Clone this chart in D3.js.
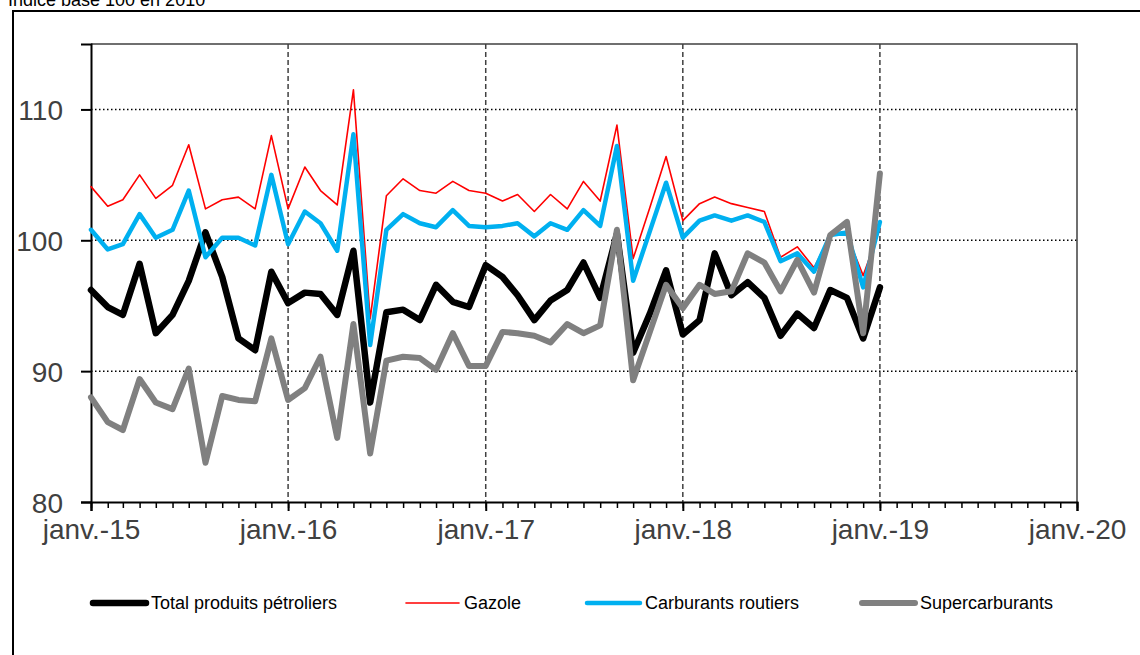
<!DOCTYPE html>
<html lang="fr">
<head>
  <meta charset="UTF-8">
  <title>Indice base 100 en 2010</title>
  <script src="https://d3js.org/d3.v7.min.js"></script>
  <style>
    body {
      margin: 0;
      background: #fff;
      font-family: "Liberation Sans", Arial, sans-serif;
    }
    .ylab, .xlab { fill: #404040; font-size: 28px; }
    .legend text { fill: #000; font-size: 18px; }
    .series { fill: none; stroke-linejoin: round; stroke-linecap: round; }
  </style>
</head>
<body>
  <svg id="chart" width="1140" height="655"></svg>

  <script>
    // first month of the series, one point per month
    const firstMonth = new Date(2015, 0, 1);

    const total = [96.2, 94.9, 94.3, 98.2, 92.9, 94.3, 96.9, 100.6, 97.2, 92.5, 91.6, 97.6,
                   95.2, 96.0, 95.9, 94.3, 99.2, 87.6, 94.5, 94.7, 93.9, 96.6, 95.3, 94.9,
                   98.1, 97.2, 95.8, 93.9, 95.4, 96.2, 98.3, 95.6, 100.5, 91.4, 94.4, 97.7,
                   92.8, 93.9, 99.0, 95.8, 96.8, 95.6, 92.7, 94.4, 93.3, 96.2, 95.6, 92.5, 96.4];
    const gazole = [104.1, 102.6, 103.1, 105.0, 103.2, 104.2, 107.3, 102.4, 103.1, 103.3, 102.4, 108.0,
                    102.4, 105.6, 103.8, 102.7, 111.5, 94.0, 103.4, 104.7, 103.8, 103.6, 104.5, 103.8,
                    103.6, 103.0, 103.5, 102.2, 103.5, 102.4, 104.5, 103.0, 108.8, 98.6, 102.5, 106.4,
                    101.5, 102.8, 103.3, 102.8, 102.5, 102.2, 98.7, 99.5, 97.9, 100.4, 100.4, 97.3, 100.9];
    const routiers = [100.8, 99.3, 99.7, 102.0, 100.2, 100.8, 103.8, 98.7, 100.2, 100.2, 99.6, 105.0,
                      99.7, 102.2, 101.3, 99.2, 108.1, 92.0, 100.8, 102.0, 101.3, 101.0, 102.3, 101.1,
                      101.0, 101.1, 101.3, 100.3, 101.3, 100.8, 102.3, 101.1, 107.2, 96.9, 100.7, 104.4,
                      100.2, 101.5, 101.9, 101.5, 101.9, 101.4, 98.4, 99.0, 97.6, 100.4, 100.6, 96.4, 101.4];
    const super_ = [88.0, 86.1, 85.5, 89.4, 87.6, 87.1, 90.2, 83.0, 88.1, 87.8, 87.7, 92.5,
                    87.8, 88.7, 91.1, 84.9, 93.6, 83.7, 90.8, 91.1, 91.0, 90.1, 92.9, 90.4,
                    90.4, 93.0, 92.9, 92.7, 92.2, 93.6, 92.9, 93.5, 100.8, 89.3, 93.0, 96.6,
                    94.8, 96.6, 95.9, 96.1, 99.0, 98.3, 96.1, 98.5, 96.0, 100.4, 101.4, 92.9, 105.1];

    const seriesNames = ["Total produits pétroliers", "Gazole", "Carburants routiers", "Supercarburants"];
    const seriesValues = [total, gazole, routiers, super_];
    const colors = ["#000000", "#ff0000", "#00b0f0", "#808080"];
    const widths = [6.5, 1.6, 4.5, 6];

    const yTicks = [80, 90, 100, 110];
    const yearTicks = [2015, 2016, 2017, 2018, 2019, 2020];

    const svg = d3.select("#chart");

    // outer frame and title (partly cut at the top, like the source)
    svg.append("rect")
      .attr("x", 13).attr("y", 11)
      .attr("width", 1140).attr("height", 660)
      .attr("fill", "none").attr("stroke", "#000").attr("stroke-width", 2);
    svg.append("text")
      .attr("x", 8).attr("y", 6)
      .attr("font-size", 18)
      .text("Indice base 100 en 2010");

    const plot = { left: 91, right: 1077, top: 44, bottom: 502 };

    const x = d3.scaleTime()
      .domain([new Date(2015, 0, 1), new Date(2020, 0, 1)])
      .range([plot.left, plot.right]);
    const y = d3.scaleLinear()
      .domain([80, 115])
      .range([plot.bottom, plot.top]);

    // horizontal dotted grid
    svg.append("g").selectAll("line")
      .data(yTicks.filter(d => d > 80))
      .join("line")
      .attr("x1", plot.left).attr("x2", plot.right)
      .attr("y1", d => y(d)).attr("y2", d => y(d))
      .attr("stroke", "#000").attr("stroke-width", 1.5)
      .attr("stroke-dasharray", "1.5,2.5");

    // vertical dashed grid at each january
    svg.append("g").selectAll("line")
      .data(yearTicks.slice(1, -1))
      .join("line")
      .attr("x1", d => x(new Date(d, 0, 1))).attr("x2", d => x(new Date(d, 0, 1)))
      .attr("y1", plot.top).attr("y2", plot.bottom)
      .attr("stroke", "#404040").attr("stroke-width", 1.5)
      .attr("stroke-dasharray", "5,3");

    // plot frame top and right
    svg.append("path")
      .attr("d", `M${plot.left},${plot.top}H${plot.right}V${plot.bottom}`)
      .attr("fill", "none").attr("stroke", "#404040").attr("stroke-width", 1.5);

    // y axis
    const yAxis = svg.append("g")
      .attr("transform", `translate(${plot.left},0)`)
      .call(d3.axisLeft(y).tickValues(yTicks).tickSize(10).tickFormat(d3.format("d")));
    yAxis.select(".domain").attr("stroke", "#000").attr("stroke-width", 2);
    yAxis.selectAll(".tick line").attr("stroke", "#000").attr("stroke-width", 2);
    yAxis.attr("font-family", null).attr("font-size", null);
    yAxis.selectAll(".tick text")
      .attr("class", "ylab")
      .attr("x", -28).attr("dy", "0.36em");

    // x axis: month minor ticks then year labels
    const months = d3.timeMonth.range(new Date(2015, 0, 1), new Date(2020, 0, 2));
    const xMinor = svg.append("g")
      .attr("transform", `translate(0,${plot.bottom})`)
      .call(d3.axisBottom(x).tickValues(months).tickSize(6).tickFormat(""));
    xMinor.select(".domain").remove();
    xMinor.selectAll(".tick line").attr("stroke", "#000").attr("stroke-width", 1.5);

    const xAxis = svg.append("g")
      .attr("transform", `translate(0,${plot.bottom})`)
      .call(d3.axisBottom(x)
        .tickValues(yearTicks.map(yr => new Date(yr, 0, 1)))
        .tickSize(9)
        .tickFormat(d => "janv.-" + d3.timeFormat("%y")(d)));
    xAxis.select(".domain").attr("stroke", "#000").attr("stroke-width", 2);
    xAxis.selectAll(".tick line").attr("stroke", "#000").attr("stroke-width", 2);
    xAxis.attr("font-family", null).attr("font-size", null);
    xAxis.selectAll(".tick text")
      .attr("class", "xlab")
      .attr("y", 37).attr("dy", null);

    // series
    const line = d3.line()
      .x((d, i) => x(d3.timeMonth.offset(firstMonth, i)))
      .y(d => y(d));

    svg.append("g").selectAll("path")
      .data(seriesValues)
      .join("path")
      .attr("class", "series")
      .attr("d", d => line(d))
      .attr("stroke", (d, i) => colors[i])
      .attr("stroke-width", (d, i) => widths[i]);

    // legend
    const legendX = [91, 404, 585, 860];
    const legend = svg.append("g").attr("class", "legend");
    seriesNames.forEach((name, i) => {
      const g = legend.append("g").attr("transform", `translate(${legendX[i]},603)`);
      g.append("line")
        .attr("x1", 2).attr("x2", 55)
        .attr("stroke", colors[i])
        .attr("stroke-width", widths[i])
        .attr("stroke-linecap", "round");
      g.append("text")
        .attr("x", 60).attr("dy", "0.35em")
        .text(name);
    });
  </script>
</body>
</html>
